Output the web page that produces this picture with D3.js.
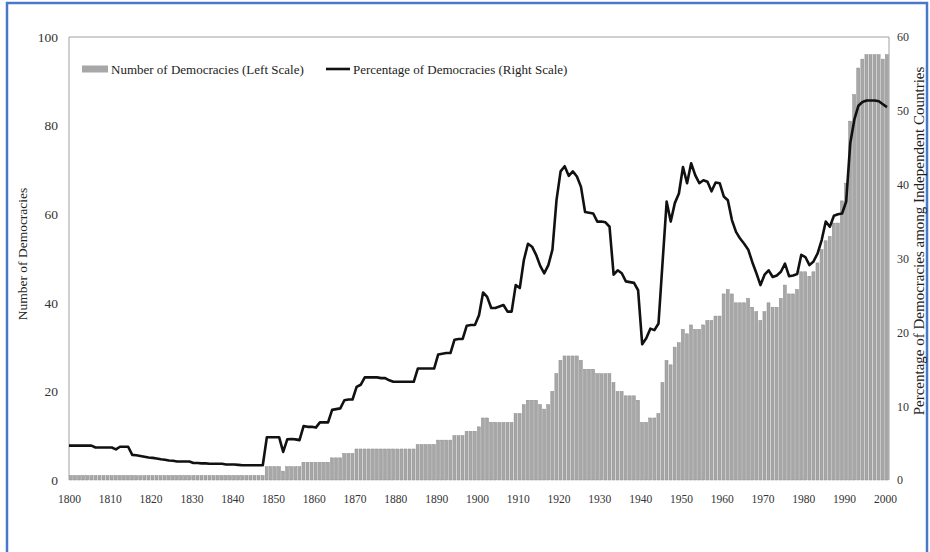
<!DOCTYPE html>
<html>
<head>
<meta charset="utf-8">
<script src="https://cdn.jsdelivr.net/npm/d3@7"></script>
<style>
  html, body { margin: 0; padding: 0; background: #fff; }
  svg { display: block; }
  text { font-family: "Liberation Serif", "DejaVu Serif", serif; fill: #222; }
  .tick text { font-family: "Liberation Serif", serif; fill: #333; }
</style>
</head>
<body>
<svg width="930" height="552"></svg>
<script>
// years 1800..2000, one bar + one line point each
const years = d3.range(1800, 2001);

// number of democracies (left scale)
const democracies = [
  1,1,1,1,1,1,1,1,1,1,
  1,1,1,1,1,1,1,1,1,1,
  1,1,1,1,1,1,1,1,1,1,
  1,1,1,1,1,1,1,1,1,1,
  1,1,1,1,1,1,1,1,3,3,
  3,3,2,3,3,3,3,4,4,4,
  4,4,4,4,5,5,5,6,6,6,
  7,7,7,7,7,7,7,7,7,7,
  7,7,7,7,7,8,8,8,8,8,
  9,9,9,9,10,10,10,11,11,11,
  12,14,14,13,13,13,13,13,13,15,
  15,17,18,18,18,17,16,17,20,24,
  27,28,28,28,28,27,25,25,25,24,
  24,24,24,22,20,20,19,19,19,18,
  13,13,14,14,15,22,27,26,30,31,
  34,33,35,34,34,35,36,36,37,37,
  42,43,42,40,40,40,41,39,38,36,
  38,40,39,39,41,44,42,42,43,47,
  47,46,47,49,52,54,55,58,58,63,
  67,81,87,93,95,96,96,96,96,95,
  96
];

// percentage of democracies among independent countries (right scale)
const percentage = [
  4.65,4.65,4.65,4.65,4.65,4.65,4.4,4.4,4.4,4.4,
  4.4,4.15,4.5,4.5,4.5,3.4,3.35,3.25,3.15,3.05,
  3.0,2.9,2.8,2.75,2.65,2.6,2.5,2.5,2.5,2.5,
  2.3,2.3,2.25,2.25,2.2,2.2,2.2,2.2,2.1,2.1,
  2.1,2.05,2.0,2.0,2.0,2.0,2.0,2.0,5.8,5.8,
  5.8,5.8,3.8,5.5,5.55,5.5,5.4,7.3,7.2,7.2,
  7.1,7.8,7.8,7.8,9.5,9.6,9.7,10.8,10.9,10.9,
  12.6,12.9,13.9,13.9,13.9,13.9,13.8,13.8,13.5,13.3,
  13.3,13.3,13.3,13.3,13.3,15.1,15.1,15.1,15.1,15.1,
  17.0,17.1,17.2,17.2,19.0,19.1,19.1,20.9,21.0,21.0,
  22.3,25.4,24.8,23.3,23.3,23.5,23.7,22.8,22.8,26.4,
  26.0,29.8,32.0,31.6,30.5,29.0,28.0,29.1,31.2,37.9,
  41.8,42.5,41.2,41.8,41.1,39.7,36.3,36.2,36.1,35.0,
  35.0,34.9,34.3,27.8,28.4,28.0,26.9,26.8,26.7,25.7,
  18.4,19.2,20.5,20.3,21.2,29.5,37.7,35.0,37.5,38.8,
  42.4,40.2,42.9,41.3,40.2,40.6,40.4,39.1,40.3,40.2,
  38.4,37.9,35.2,33.6,32.7,32.0,31.2,29.5,28.0,26.4,
  27.8,28.4,27.5,27.7,28.2,29.3,27.6,27.7,27.9,30.5,
  30.2,29.1,29.6,30.7,32.5,35.0,34.3,35.8,36.0,36.1,
  37.7,45.6,48.8,50.7,51.2,51.4,51.4,51.4,51.3,50.9,
  50.5
];

const xTicks = [1800,1810,1820,1830,1840,1850,1860,1870,1880,1890,
                1900,1910,1920,1930,1940,1950,1960,1970,1980,1990,2000];
const leftTicks = [0, 20, 40, 60, 80, 100];
const rightTicks = [0, 10, 20, 30, 40, 50, 60];

const barLabel = "Number of Democracies (Left Scale)";
const lineLabel = "Percentage of Democracies (Right Scale)";
const leftTitle = "Number of Democracies";
const rightTitle = "Percentage of Democracies among Independent Countries";

const svg = d3.select("svg");

const margin = {top: 37, right: 41, bottom: 72, left: 69};
const width = 930, height = 552;

const x = d3.scaleLinear().domain([1800, 2001]).range([margin.left, width - margin.right]);
const yL = d3.scaleLinear().domain([0, 100]).range([height - margin.bottom, margin.top]);
const yR = d3.scaleLinear().domain([0, 60]).range([height - margin.bottom, margin.top]);
const step = x(1801) - x(1800);

// blue outer frame
svg.append("rect")
    .attr("x", 7).attr("y", 3)
    .attr("width", 920).attr("height", 560)
    .attr("fill", "none")
    .attr("stroke", "#4a78c8")
    .attr("stroke-width", 2.5);

// bars
svg.append("g").selectAll("rect")
  .data(years)
  .enter().append("rect")
    .attr("x", (d) => x(d) + 0.4)
    .attr("width", step - 1.1)
    .attr("y", (d, i) => yL(democracies[i]))
    .attr("height", (d, i) => yL(0) - yL(democracies[i]))
    .attr("fill", "#a7a7a7")
    .attr("stroke", "#8c8c8c")
    .attr("stroke-width", 0.5);

// plot frame (left, top, right)
svg.append("path")
    .attr("d", "M" + x(1800) + "," + yL(0) + "V" + yL(100) + "H" + x(2001) + "V" + yL(0))
    .attr("fill", "none")
    .attr("stroke", "#a0a0a0")
    .attr("stroke-width", 1);

// percentage line
const line = d3.line()
    .x((d, i) => i === 0 ? x(1800) : x(d + 0.5))
    .y((d, i) => yR(percentage[i]));

svg.append("path")
    .datum(years)
    .attr("d", line)
    .attr("fill", "none")
    .attr("stroke", "#111")
    .attr("stroke-width", 2.6)
    .attr("stroke-linejoin", "round");

// axes
const leftAxis = svg.append("g")
    .attr("transform", "translate(" + (margin.left - 11) + ",0)")
    .call(d3.axisLeft(yL).tickValues(leftTicks).tickSize(0).tickPadding(0));
leftAxis.select(".domain").remove();
leftAxis.selectAll("text").attr("font-size", 13.5);

const rightAxis = svg.append("g")
    .attr("transform", "translate(" + (x(2001) + 8) + ",0)")
    .call(d3.axisRight(yR).tickValues(rightTicks).tickSize(0).tickPadding(0));
rightAxis.select(".domain").remove();
rightAxis.selectAll("text").attr("font-size", 12);

const bottomAxis = svg.append("g")
    .attr("transform", "translate(0," + (yL(0) + 15) + ")")
    .call(d3.axisBottom(x).tickValues(xTicks).tickFormat(d3.format("d")).tickSize(0).tickPadding(0));
bottomAxis.select(".domain").remove();
bottomAxis.selectAll("text").attr("font-size", 11.5);

// axis titles
svg.append("text")
    .attr("transform", "translate(27," + 254 + ") rotate(-90)")
    .attr("text-anchor", "middle")
    .attr("font-size", 13.5)
    .text(leftTitle);

svg.append("text")
    .attr("transform", "translate(924," + 241 + ") rotate(-90)")
    .attr("text-anchor", "middle")
    .attr("font-size", 15)
    .text(rightTitle);

// legend
const legend = svg.append("g");
legend.append("rect")
    .attr("x", 82).attr("y", 65.5)
    .attr("width", 26).attr("height", 7)
    .attr("fill", "#a7a7a7");
legend.append("text")
    .attr("x", 111).attr("y", 73.5)
    .attr("font-size", 13)
    .text(barLabel);
legend.append("line")
    .attr("x1", 326).attr("x2", 350)
    .attr("y1", 69).attr("y2", 69)
    .attr("stroke", "#111")
    .attr("stroke-width", 2.6);
legend.append("text")
    .attr("x", 353).attr("y", 73.5)
    .attr("font-size", 13)
    .text(lineLabel);
</script>
</body>
</html>
